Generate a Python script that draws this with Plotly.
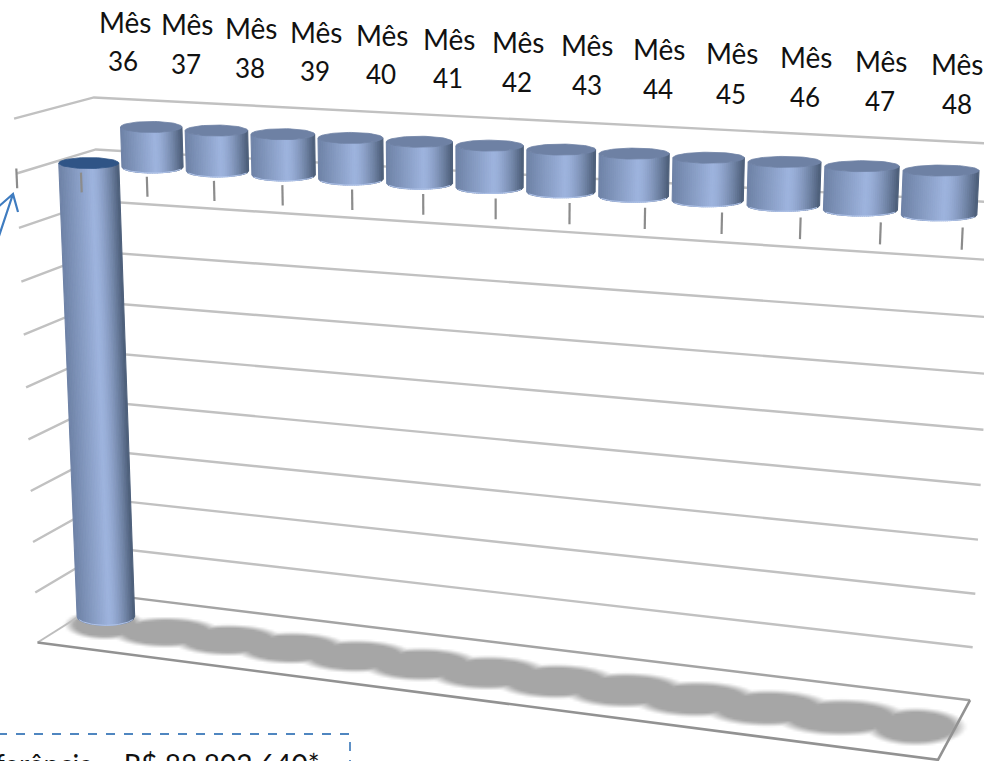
import numpy as np
import plotly.graph_objects as go

# Monthly flows, in millions of reais
months = [36, 37, 38, 39, 40, 41, 42, 43, 44, 45, 46, 47, 48]
values = [-88.80264, 7.4, 7.4, 7.4, 7.4, 7.4, 7.4, 7.4, 7.4, 7.4, 7.4, 7.4, 7.4]
axis_min = -90
axis_max = 10
axis_step = 10
total_note = "Valor de Referência – R$ 88.802.640*"

W, H = 984, 761

# Pinhole camera for the chart box: (slot, depth, level) -> page position.
# slot 0..1 runs left to right, depth 0..1 front to back, level 0..10 in gridline steps.
box_corners = [
    ((0, 0, 0), (37, 643)), ((1, 0, 0), (938, 760)),
    ((0, 1, 0), (113, 595)), ((1, 1, 0), (970, 700)),
    ((0, 1, 10), (93, 98)), ((0, 0, 10), (15, 118)),
    ((1, 1, 10), (998, 144)), ((1, 0, 9), (962, 233)),
]
rows = []
for (a, b, c), (px, py) in box_corners:
    rows.append([a, b, c, 1, 0, 0, 0, 0, -px * a, -px * b, -px * c, -px])
    rows.append([0, 0, 0, 0, a, b, c, 1, -py * a, -py * b, -py * c, -py])
camera = np.linalg.svd(np.array(rows, float))[2][-1].reshape(3, 4)


def project(slot, depth, level):
    p = camera @ np.array([slot, depth, level, 1.0])
    return p[0] / p[2], p[1] / p[2]


def level_of(value):
    return (value - axis_min) / axis_step


n = len(months)
grid_color = "#c1c1c1"
floor_color = "#929292"
tick_color = "#8c8c8c"

fig = go.Figure()


def add_line(points, color, width):
    xs, ys = zip(*points)
    fig.add_trace(go.Scatter(x=xs, y=ys, mode="lines", hoverinfo="skip",
                             line=dict(color=color, width=width)))


# Soft shadow on the floor, one blob per month; the two end blobs are narrower
sx = np.arange(40, 984, 3.0)
sy = np.arange(596, 761, 2.0)
gx, gy = np.meshgrid(sx, sy)
field = np.zeros_like(gx)
for i in range(n):
    cx, cy = project((i + 0.5) / n, 0.5, 0)
    x0, _ = project(i / n, 0.5, 0)
    x1, _ = project((i + 1) / n, 0.5, 0)
    rx = (x1 - x0) * (0.68 if i in (0, n - 1) else 0.92)
    ry = 15.5 + 4.0 * i / (n - 1)
    d = np.hypot((gx - (cx - 2)) / rx, (gy - (cy + 2)) / ry)
    field = np.maximum(field, 1 - d)
shade = np.clip(field / 0.26, 0, 1)
fig.add_trace(go.Heatmap(x=sx, y=sy, z=shade, zmin=0, zmax=1, zsmooth="best", showscale=False,
                         hoverinfo="skip",
                         colorscale=[[0, "rgba(166,166,166,0)"], [1, "rgba(166,166,166,1)"]]))

# Walls: gridlines along the side wall and the back wall
for lev in range(1, 11):
    add_line([project(0, 0, lev), project(0, 1, lev), project(1, 1, lev)], grid_color, 2.4)

# Floor plate
add_line([project(0, 1, 0), project(1, 1, 0)], "#a4a4a4", 2.4)
add_line([project(0, 0, 0), project(0, 1, 0)], "#bdbdbd", 2)
add_line([project(0, 0, 0), project(1, 0, 0), project(1, 1, 0)], floor_color, 2.6)


def mix(c0, c1, t):
    return tuple(a + (b - a) * t for a, b in zip(c0, c1))


def side_color(t):
    edge_l, mid, edge_r = (110, 130, 166), (158, 180, 222), (76, 93, 120)
    c = mix(edge_l, mid, t / 0.56) if t < 0.56 else mix(mid, edge_r, ((t - 0.56) / 0.44) ** 1.5)
    return "rgb(%d,%d,%d)" % c


def add_cylinder(i, value, top_fill, ry_top=5.5, ry_bot=6.0, strips=36):
    slot = (i + 0.5) / n
    half = 0.5 / n * 0.95
    low, high = sorted((level_of(0), level_of(value)))
    top_c = project(slot, 0.5, high)
    bot_c = project(slot, 0.5, low)
    top_rx = (project(slot + half, 0.5, high)[0] - project(slot - half, 0.5, high)[0]) / 2
    bot_rx = (project(slot + half, 0.5, low)[0] - project(slot - half, 0.5, low)[0]) / 2
    # Strips of equal on-screen width, each with its own shade
    edges = np.linspace(-1, 1, strips + 1)
    for j in range(strips):
        c = np.linspace(edges[j], edges[j + 1], 3)
        s = np.sqrt(1 - c ** 2)
        xt = top_c[0] + top_rx * c
        yt = top_c[1] + ry_top * s
        xb = bot_c[0] + bot_rx * c
        yb = bot_c[1] + ry_bot * s
        col = side_color((j + 0.5) / strips)
        fig.add_trace(go.Scatter(
            x=np.r_[xt, xb[::-1], xt[0]], y=np.r_[yt, yb[::-1], yt[0]], mode="lines", fill="toself",
            fillcolor=col, line=dict(color=col, width=1.1), hoverinfo="skip"))
    th = np.linspace(0.12 * np.pi, 0.88 * np.pi, 40)
    fig.add_trace(go.Scatter(x=bot_c[0] + bot_rx * np.cos(th), y=bot_c[1] + ry_bot * np.sin(th), mode="lines",
                             line=dict(color="#aec2e8", width=1), hoverinfo="skip"))
    th = np.linspace(0, 2 * np.pi, 70)
    fig.add_trace(go.Scatter(x=top_c[0] + top_rx * np.cos(th), y=top_c[1] + ry_top * np.sin(th), mode="lines",
                             fill="toself", fillcolor=top_fill, line=dict(color=top_fill, width=0.8),
                             hoverinfo="skip"))


# Positive months first, the large negative bar stands in front of them
for i, v in enumerate(values):
    if v > 0:
        add_cylinder(i, v, "#6e81a4")
for i, v in enumerate(values):
    if v < 0:
        add_cylinder(i, v, "#2f5486", ry_top=5.5, ry_bot=9.0)

# Category axis tick marks on the front plane, at the zero level
for k in range(n + 1):
    add_line([project(k / n, 0, level_of(0) + 0.09), project(k / n, 0, level_of(0) - 0.27)], tick_color, 2.2)

# Month captions above the chart
mes_anchor_x = [125, 187, 251, 316, 382, 449, 518, 587, 659, 732, 806, 881, 957]
mes_anchor_y = [32, 34, 38, 42, 45, 49, 52, 55, 59, 63, 67, 71, 74]
num_anchor_x = [123, 186, 250, 315, 381, 448, 517, 587, 658, 731, 805, 880, 957]
num_anchor_y = [70, 73, 77, 80, 83, 87, 91, 94, 98, 103, 106, 110, 113]
mes_font = dict(family="Lato", size=28, color="#111111")
num_font = dict(family="Lato", size=26, color="#111111")
annotations = []
for m, xa, ya, xb, yb in zip(months, mes_anchor_x, mes_anchor_y, num_anchor_x, num_anchor_y):
    annotations.append(dict(x=xa, y=ya - 10, xref="x", yref="y", text="Mês", showarrow=False,
                            font=mes_font, xanchor="center", yanchor="middle"))
    annotations.append(dict(x=xb, y=yb - 9, xref="x", yref="y", text=str(m), showarrow=False,
                            font=num_font, xanchor="center", yanchor="middle"))

annotations.append(dict(x=322 / W, y=1 - 745 / H, xref="paper", yref="paper", text=total_note,
                        showarrow=False, xanchor="right", yanchor="top",
                        font=dict(family="Lato", size=28, color="#111111")))

note_blue = "#3f7cc0"
shapes = [
    dict(type="path", path="M -20 734 L 350 734 L 350 790", xref="x", yref="y",
         line=dict(color="#4f86c0", width=1.8, dash="dash")),
    dict(type="path", path="M -4 245 L 13 194 M -3 208 L 13 194 L 18 212", xref="x", yref="y",
         line=dict(color=note_blue, width=2.2)),
]

fig.update_layout(
    width=W, height=H, margin=dict(l=0, r=0, t=0, b=0), showlegend=False,
    paper_bgcolor="white", plot_bgcolor="white",
    xaxis=dict(range=[0, W], visible=False, fixedrange=True),
    yaxis=dict(range=[H, 0], visible=False, fixedrange=True),
    annotations=annotations, shapes=shapes,
)
fig.write_html("out.html", config=dict(displayModeBar=False))
